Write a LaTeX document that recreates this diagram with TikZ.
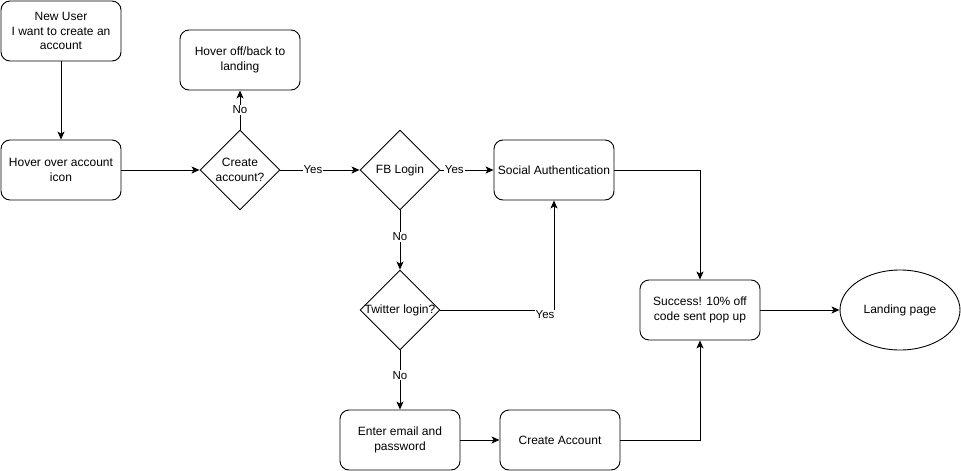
\documentclass[tikz,border=0pt]{standalone}
\usepackage{fontspec}
\setmainfont{Liberation Sans}
\usetikzlibrary{shapes.geometric}
\usetikzlibrary{arrows.meta}
\tikzset{proc/.style={rectangle, rounded corners=9pt, draw, line width=0.9pt,
   minimum width=120pt, minimum height=60pt, align=center, inner sep=0pt}}
\tikzset{decide/.style={diamond, draw, line width=0.9pt,
   minimum width=80pt, minimum height=80pt, inner sep=0pt}}
\tikzset{term/.style={ellipse, draw, line width=0.9pt,
   minimum width=120pt, minimum height=80pt, inner sep=0pt}}
\tikzset{flow/.style={-{Stealth[length=8pt,width=7pt,inset=2pt]}, line width=0.9pt}}
\tikzset{lbl/.style={fill=white, inner sep=1pt, font=\fontsize{11.5}{13}\selectfont}}

\begin{document}
\begin{tikzpicture}[x=1pt, y=-1pt, font=\fontsize{12}{14.4}\selectfont]

    \useasboundingbox (0,0) rectangle (961,471);

    \node[proc] (user)     at (61,31)   {New User\\I want to create an\\account};
    \node[proc] (hover)    at (61,170)  {Hover over account\\icon};
    \node[proc] (hoveroff) at (240,60)  {Hover off/back to\\landing};
    \node[decide, label={[align=center]center:Create\\account?}] (create) at (240,170) {};
    \node[decide, label=center:FB Login] (fb) at (400,170) {};
    \node[proc] (social)   at (554,170) {Social Authentication};
    \node[decide, label=center:Twitter login?] (tw) at (400,310) {};
    \node[proc] (email)    at (400,440) {Enter email and\\password};
    \node[proc] (acct)     at (560,440) {Create Account};
    \node[proc] (success)  at (700,310) {Success! 10\% off\\code sent pop up};
    \node[term] (landing)  at (900,310) {Landing page};

    \draw[flow] (user) -- (hover);
    \draw[flow] (hover) -- (create);
    \draw[flow] (create) -- node[lbl, pos=0.5] {No} (hoveroff);
    \draw[flow] (create) -- node[lbl, pos=0.41] {Yes} (fb);
    \draw[flow] (fb) -- node[lbl, pos=0.26] {Yes} (social);
    \draw[flow] (fb) -- node[lbl, pos=0.45] {No} (tw);
    \draw[flow] (tw.east) -| node[lbl, pos=0.5, xshift=-9pt, yshift=-5pt] {Yes} (social.south);
    \draw[flow] (tw) -- node[lbl, pos=0.42] {No} (email);
    \draw[flow] (email) -- (acct);
    \draw[flow] (social.east) -| (success.north);
    \draw[flow] (acct.east) -| (success.south);
    \draw[flow] (success) -- (landing);

  \end{tikzpicture}
\end{document}
